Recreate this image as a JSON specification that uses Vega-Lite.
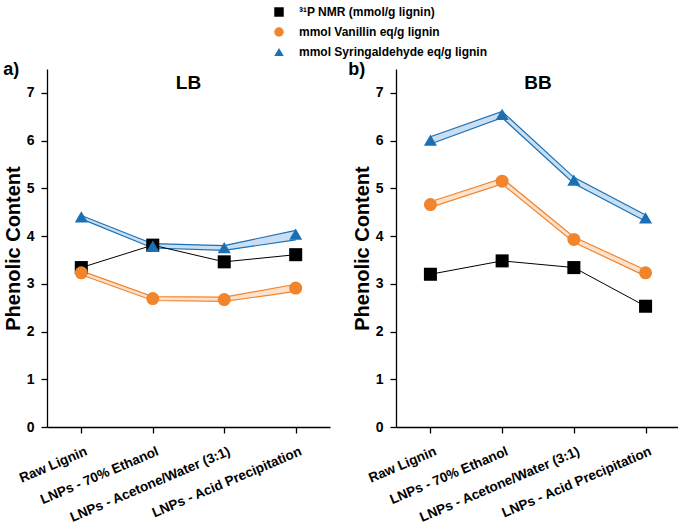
{
  "$schema": "https://vega.github.io/schema/vega-lite/v6.json",
  "padding": {"left": 3, "top": 6, "right": 0, "bottom": 0},
  "background": "white",
  "config": {
    "view": {"stroke": null},
    "font": "Liberation Sans",
    "axis": {"grid": false, "domainColor": "black", "tickColor": "black", "labelColor": "black", "titleColor": "black", "labelFont": "Liberation Sans", "labelFontWeight": "bold", "titleFont": "Liberation Sans", "titleFontWeight": "bold", "domainWidth": 1.3, "tickWidth": 1.3},
    "title": {"font": "Liberation Sans", "fontWeight": "bold", "color": "black"},
    "legend": {"labelFont": "Liberation Sans", "labelFontWeight": "bold", "labelFontSize": 12, "labelColor": "black", "rowPadding": 8, "symbolSize": 90, "labelOffset": 14, "labelLimit": 400}
  },
  "datasets": {
    "pts": [
      {"panel": "LB", "cat": "Raw Lignin", "series": "nmr", "value": 3.34, "lo": null, "hi": null},
      {"panel": "LB", "cat": "LNPs - 70% Ethanol", "series": "nmr", "value": 3.81, "lo": null, "hi": null},
      {"panel": "LB", "cat": "LNPs - Acetone/Water (3:1)", "series": "nmr", "value": 3.46, "lo": null, "hi": null},
      {"panel": "LB", "cat": "LNPs - Acid Precipitation", "series": "nmr", "value": 3.61, "lo": null, "hi": null},
      {"panel": "LB", "cat": "Raw Lignin", "series": "van", "value": 3.23, "lo": 3.19, "hi": 3.27},
      {"panel": "LB", "cat": "LNPs - 70% Ethanol", "series": "van", "value": 2.69, "lo": 2.65, "hi": 2.73},
      {"panel": "LB", "cat": "LNPs - Acetone/Water (3:1)", "series": "van", "value": 2.67, "lo": 2.63, "hi": 2.72},
      {"panel": "LB", "cat": "LNPs - Acid Precipitation", "series": "van", "value": 2.91, "lo": 2.84, "hi": 2.99},
      {"panel": "LB", "cat": "Raw Lignin", "series": "syr", "value": 4.4, "lo": 4.36, "hi": 4.43},
      {"panel": "LB", "cat": "LNPs - 70% Ethanol", "series": "syr", "value": 3.79, "lo": 3.75, "hi": 3.84},
      {"panel": "LB", "cat": "LNPs - Acetone/Water (3:1)", "series": "syr", "value": 3.76, "lo": 3.7, "hi": 3.8},
      {"panel": "LB", "cat": "LNPs - Acid Precipitation", "series": "syr", "value": 4.04, "lo": 3.92, "hi": 4.12},
      {"panel": "BB", "cat": "Raw Lignin", "series": "nmr", "value": 3.2, "lo": null, "hi": null},
      {"panel": "BB", "cat": "LNPs - 70% Ethanol", "series": "nmr", "value": 3.48, "lo": null, "hi": null},
      {"panel": "BB", "cat": "LNPs - Acetone/Water (3:1)", "series": "nmr", "value": 3.34, "lo": null, "hi": null},
      {"panel": "BB", "cat": "LNPs - Acid Precipitation", "series": "nmr", "value": 2.53, "lo": null, "hi": null},
      {"panel": "BB", "cat": "Raw Lignin", "series": "van", "value": 4.66, "lo": 4.6, "hi": 4.72},
      {"panel": "BB", "cat": "LNPs - 70% Ethanol", "series": "van", "value": 5.15, "lo": 5.09, "hi": 5.21},
      {"panel": "BB", "cat": "LNPs - Acetone/Water (3:1)", "series": "van", "value": 3.93, "lo": 3.87, "hi": 3.98},
      {"panel": "BB", "cat": "LNPs - Acid Precipitation", "series": "van", "value": 3.23, "lo": 3.16, "hi": 3.29},
      {"panel": "BB", "cat": "Raw Lignin", "series": "syr", "value": 6.01, "lo": 5.93, "hi": 6.08},
      {"panel": "BB", "cat": "LNPs - 70% Ethanol", "series": "syr", "value": 6.55, "lo": 6.48, "hi": 6.61},
      {"panel": "BB", "cat": "LNPs - Acetone/Water (3:1)", "series": "syr", "value": 5.17, "lo": 5.1, "hi": 5.23},
      {"panel": "BB", "cat": "LNPs - Acid Precipitation", "series": "syr", "value": 4.38, "lo": 4.31, "hi": 4.44}
    ]
  },
  "resolve": {"scale": {"color": "shared", "shape": "shared"}, "legend": {"color": "shared", "shape": "shared"}},
  "spacing": 18,
  "hconcat": [
    {
      "title": {"text": "a)", "anchor": "start", "frame": "bounds", "fontSize": 18, "offset": -10},
      "vconcat": [
        {
          "width": 283, "height": 358,
          "title": {"text": "LB", "fontSize": 19, "dy": 24, "offset": 0},
          "data": {"name": "pts"},
          "transform": [{"filter": "datum.panel === 'LB'"}],
          "encoding": {
            "x": {"field": "cat", "type": "nominal", "sort": ["Raw Lignin", "LNPs - 70% Ethanol", "LNPs - Acetone/Water (3:1)", "LNPs - Acid Precipitation"], "scale": {"type": "point", "padding": 0.48},
              "axis": {"title": null, "labelAngle": -23, "labelAlign": "right", "labelBaseline": "top", "labelFontSize": 13.5, "labelPadding": 11, "labelOffset": 2, "tickSize": 6}}
          },
          "layer": [
            {"transform": [{"filter": "datum.series !== 'nmr'"}], "mark": {"type": "area", "opacity": 1},
              "encoding": {"y": {"field": "lo", "type": "quantitative"}, "y2": {"field": "hi"}, "detail": {"field": "series"}, "fill": {"condition": {"test": "datum.series === 'van'", "value": "#fce2cd"}, "value": "#c9def0"}}},
            {"transform": [{"filter": "datum.series !== 'nmr'"}], "mark": {"type": "line", "strokeWidth": 1.2},
              "encoding": {"y": {"field": "lo", "type": "quantitative"}, "detail": {"field": "series"}, "stroke": {"condition": {"test": "datum.series === 'van'", "value": "#f0852d"}, "value": "#1b70b5"}}},
            {"transform": [{"filter": "datum.series !== 'nmr'"}], "mark": {"type": "line", "strokeWidth": 1.2},
              "encoding": {"y": {"field": "hi", "type": "quantitative"}, "detail": {"field": "series"}, "stroke": {"condition": {"test": "datum.series === 'van'", "value": "#f0852d"}, "value": "#1b70b5"}}},
            {"transform": [{"filter": "datum.series === 'nmr'"}], "mark": {"type": "line", "strokeWidth": 1, "color": "black"},
              "encoding": {"y": {"field": "value", "type": "quantitative"}}},
            {"mark": {"type": "point", "filled": true, "opacity": 1, "size": 170},
              "encoding": {
                "y": {"field": "value", "type": "quantitative", "scale": {"domain": [0, 7.5], "nice": false},
                  "axis": {"title": "Phenolic Content", "titleFontSize": 20, "labelFontSize": 14, "values": [0, 0.5, 1, 1.5, 2, 2.5, 3, 3.5, 4, 4.5, 5, 5.5, 6, 6.5, 7, 7.5], "labelExpr": "datum.value % 1 === 0 ? datum.label : ''", "tickSize": {"condition": {"test": "datum.value % 1 !== 0", "value": 3}, "value": 6}, "titlePadding": 3, "labelPadding": 7}},
                "color": {"field": "series", "type": "nominal", "scale": {"domain": ["nmr", "van", "syr"], "range": ["#000000", "#f0852d", "#1b70b5"]},
                  "legend": {"title": null, "orient": "none", "legendX": 226, "legendY": -63, "labelExpr": "datum.value === 'nmr' ? '³¹P NMR (mmol/g lignin)' : datum.value === 'van' ? 'mmol Vanillin eq/g lignin' : 'mmol Syringaldehyde eq/g lignin'"}},
                "shape": {"field": "series", "type": "nominal", "scale": {"domain": ["nmr", "van", "syr"], "range": ["square", "circle", "triangle-up"]},
                  "legend": {"title": null, "orient": "none", "legendX": 226, "legendY": -63, "labelExpr": "datum.value === 'nmr' ? '³¹P NMR (mmol/g lignin)' : datum.value === 'van' ? 'mmol Vanillin eq/g lignin' : 'mmol Syringaldehyde eq/g lignin'"}}
              }}
          ]
        }
      ]
    },
    {
      "title": {"text": "b)", "anchor": "start", "frame": "bounds", "fontSize": 18, "offset": -10, "dx": -4},
      "vconcat": [
        {
          "width": 284, "height": 358,
          "title": {"text": "BB", "fontSize": 19, "dy": 24, "offset": 0},
          "data": {"name": "pts"},
          "transform": [{"filter": "datum.panel === 'BB'"}],
          "encoding": {
            "x": {"field": "cat", "type": "nominal", "sort": ["Raw Lignin", "LNPs - 70% Ethanol", "LNPs - Acetone/Water (3:1)", "LNPs - Acid Precipitation"], "scale": {"type": "point", "padding": 0.48},
              "axis": {"title": null, "labelAngle": -23, "labelAlign": "right", "labelBaseline": "top", "labelFontSize": 13.5, "labelPadding": 11, "labelOffset": 2, "tickSize": 6}}
          },
          "layer": [
            {"transform": [{"filter": "datum.series !== 'nmr'"}], "mark": {"type": "area", "opacity": 1},
              "encoding": {"y": {"field": "lo", "type": "quantitative"}, "y2": {"field": "hi"}, "detail": {"field": "series"}, "fill": {"condition": {"test": "datum.series === 'van'", "value": "#fce2cd"}, "value": "#c9def0"}}},
            {"transform": [{"filter": "datum.series !== 'nmr'"}], "mark": {"type": "line", "strokeWidth": 1.2},
              "encoding": {"y": {"field": "lo", "type": "quantitative"}, "detail": {"field": "series"}, "stroke": {"condition": {"test": "datum.series === 'van'", "value": "#f0852d"}, "value": "#1b70b5"}}},
            {"transform": [{"filter": "datum.series !== 'nmr'"}], "mark": {"type": "line", "strokeWidth": 1.2},
              "encoding": {"y": {"field": "hi", "type": "quantitative"}, "detail": {"field": "series"}, "stroke": {"condition": {"test": "datum.series === 'van'", "value": "#f0852d"}, "value": "#1b70b5"}}},
            {"transform": [{"filter": "datum.series === 'nmr'"}], "mark": {"type": "line", "strokeWidth": 1, "color": "black"},
              "encoding": {"y": {"field": "value", "type": "quantitative"}}},
            {"mark": {"type": "point", "filled": true, "opacity": 1, "size": 170},
              "encoding": {
                "y": {"field": "value", "type": "quantitative", "scale": {"domain": [0, 7.5], "nice": false},
                  "axis": {"title": "Phenolic Content", "titleFontSize": 20, "labelFontSize": 14, "values": [0, 0.5, 1, 1.5, 2, 2.5, 3, 3.5, 4, 4.5, 5, 5.5, 6, 6.5, 7, 7.5], "labelExpr": "datum.value % 1 === 0 ? datum.label : ''", "tickSize": {"condition": {"test": "datum.value % 1 !== 0", "value": 3}, "value": 6}, "titlePadding": 3, "labelPadding": 7}},
                "color": {"field": "series", "type": "nominal", "scale": {"domain": ["nmr", "van", "syr"], "range": ["#000000", "#f0852d", "#1b70b5"]},
                  "legend": {"title": null, "orient": "none", "legendX": 226, "legendY": -63, "labelExpr": "datum.value === 'nmr' ? '³¹P NMR (mmol/g lignin)' : datum.value === 'van' ? 'mmol Vanillin eq/g lignin' : 'mmol Syringaldehyde eq/g lignin'"}},
                "shape": {"field": "series", "type": "nominal", "scale": {"domain": ["nmr", "van", "syr"], "range": ["square", "circle", "triangle-up"]},
                  "legend": {"title": null, "orient": "none", "legendX": 226, "legendY": -63, "labelExpr": "datum.value === 'nmr' ? '³¹P NMR (mmol/g lignin)' : datum.value === 'van' ? 'mmol Vanillin eq/g lignin' : 'mmol Syringaldehyde eq/g lignin'"}}
              }}
          ]
        }
      ]
    }
  ]
}
